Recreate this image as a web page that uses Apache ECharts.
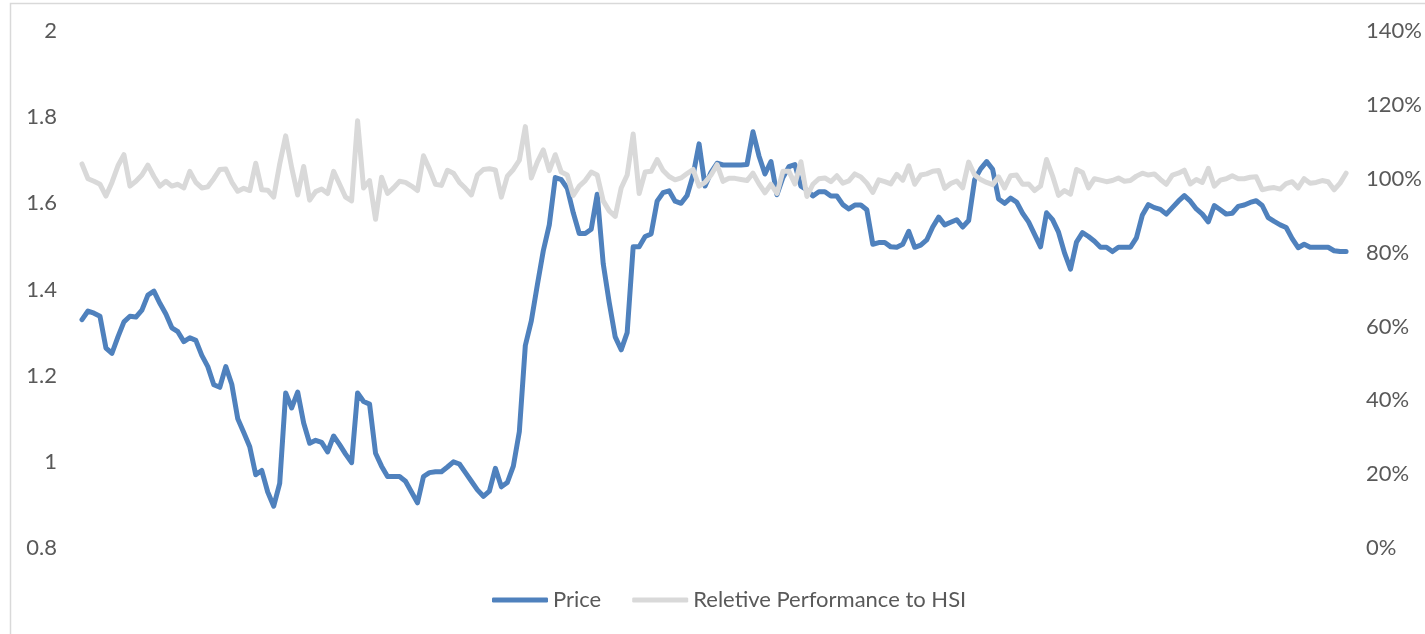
<!DOCTYPE html>
<html>
<head>
<meta charset="utf-8">
<script src="https://cdn.jsdelivr.net/npm/echarts@6/dist/echarts.min.js"></script>
<style>
html,body{margin:0;padding:0;background:#fff;}
#chart{width:1425px;height:634px;}
</style>
</head>
<body>
<div id="chart"></div>
<script>
// Price (left axis)
const price = [
1.33,1.35,1.345,1.338,1.264,1.252,1.29,1.325,1.338,1.336,
1.352,1.387,1.396,1.368,1.343,1.311,1.302,1.279,1.288,1.282,
1.247,1.221,1.179,1.173,1.221,1.18,1.10,1.068,1.035,0.97,
0.98,0.93,0.897,0.95,1.16,1.125,1.162,1.09,1.043,1.05,
1.045,1.023,1.06,1.04,1.018,0.998,1.16,1.14,1.134,1.02,
0.99,0.966,0.966,0.966,0.955,0.93,0.905,0.966,0.975,0.977,
0.977,0.988,1.0,0.995,0.975,0.955,0.935,0.92,0.932,0.985,
0.942,0.952,0.99,1.07,1.27,1.327,1.41,1.49,1.55,1.66,
1.655,1.635,1.578,1.53,1.53,1.54,1.621,1.46,1.37,1.29,
1.26,1.3,1.499,1.499,1.523,1.529,1.605,1.625,1.629,1.605,
1.6,1.618,1.665,1.738,1.64,1.672,1.693,1.689,1.689,1.689,
1.689,1.69,1.766,1.71,1.668,1.697,1.62,1.66,1.685,1.69,
1.64,1.631,1.617,1.627,1.627,1.617,1.617,1.597,1.587,1.596,
1.596,1.585,1.505,1.509,1.509,1.499,1.498,1.505,1.535,1.498,
1.503,1.515,1.545,1.568,1.55,1.556,1.562,1.545,1.56,1.655,
1.68,1.697,1.679,1.61,1.6,1.612,1.603,1.577,1.557,1.528,
1.499,1.578,1.562,1.533,1.485,1.447,1.51,1.532,1.523,1.512,
1.498,1.498,1.488,1.498,1.498,1.498,1.52,1.573,1.597,1.59,
1.586,1.575,1.59,1.605,1.618,1.605,1.587,1.575,1.557,1.595,
1.585,1.575,1.577,1.593,1.596,1.602,1.606,1.595,1.567,1.558,
1.55,1.544,1.518,1.497,1.505,1.498,1.498,1.498,1.498,1.49,
1.488,1.488
];
// Relative performance to HSI, in % (right axis)
const relPerf = [
104,100,99.3,98.5,95.3,99,103.5,106.5,98,99.3,
101,103.7,100.6,98,99.3,98,98.5,97.5,102,99,
97.5,97.8,100,102.5,102.6,99.1,96.6,97.4,96.8,104.2,
97,96.9,95,104,111.6,103,95.6,103.3,94.2,96.5,
97.2,96,102,98.5,95,94,115.7,97.5,99.5,89,
100.4,96,97.5,99.3,99,98,96.8,106.2,102.6,98.5,
98.2,102.3,101.5,99,97.4,95.6,101,102.5,102.7,102.4,
95,100.7,102.5,105,114.1,100.2,104.5,107.8,102.2,106.5,
101.8,101,95.5,98,99.5,101.8,101,94,91.3,89.8,
97.5,101,112.1,96,101.8,102,105.2,102.2,100.6,99.7,
100.2,101.4,102.5,98,99,101,103.8,99.3,100.1,100.1,
99.8,99.5,101.5,98.6,96.2,98.5,96,102,102,98.6,
104.6,95.2,98.5,100,100.2,99.2,100.8,98.8,99.4,101.3,
100.5,98.8,96.3,99.7,99.2,98.6,101.2,99.6,103.5,98.5,
101,101.3,102,102.2,97.4,98.7,99.4,97.5,104.5,101,
99.8,99,98.4,100.5,97.5,100.8,101,98.5,98.6,96.8,
98,105.2,100.8,95.5,96.8,95.8,102.5,101.7,97.5,100,
99.6,99.2,99.5,100.2,99.3,99.5,100.7,101.5,101,101.3,
99.8,98.5,101,101.5,102.3,98.6,99.8,99,102.8,98,
99.6,100,100.8,100,100,100.4,100.5,97,97.4,97.6,
97.2,98.7,99.2,97.5,100,98.8,99,99.5,99.2,97,
98.8,101.5
];
const seriesNames = ['Price', 'Reletive Performance to HSI'];
const days = price.map((_, i) => 'D' + (i + 1));

const FONT = 'Lato, "Open Sans", sans-serif';
const TXT = '#595959';
const chart = echarts.init(document.getElementById('chart'), null, {renderer: 'canvas'});
chart.setOption({
  animation: false,
  backgroundColor: '#fff',
  graphic: [{
    type: 'rect', z: -10, silent: true,
    shape: {x: 10.5, y: 3.5, width: 1500, height: 800},
    style: {fill: 'none', stroke: '#d9d9d9', lineWidth: 1.5}
  }],
  grid: {left: 82, right: 77, top: 31, bottom: 86},
  legend: {
    data: [
      {name: seriesNames[0], icon: 'roundRect'},
      {name: seriesNames[1], icon: 'roundRect'}
    ],
    left: 487, top: 584,
    itemWidth: 56, itemHeight: 5, itemGap: 31,
    textStyle: {fontFamily: FONT, fontSize: 22, color: TXT}
  },
  xAxis: {
    type: 'category', data: days, boundaryGap: false,
    axisLine: {show: false}, axisTick: {show: false}, axisLabel: {show: false},
    splitLine: {show: false}
  },
  yAxis: [{
    type: 'value', min: 0.8, max: 2, interval: 0.2,
    axisLine: {show: false}, axisTick: {show: false}, splitLine: {show: false},
    axisLabel: {fontFamily: FONT, fontSize: 22, color: TXT, margin: 25,
      formatter: v => String(Math.round(v * 10) / 10)}
  }, {
    type: 'value', min: 0, max: 140, interval: 20, position: 'right',
    axisLine: {show: false}, axisTick: {show: false}, splitLine: {show: false},
    axisLabel: {fontFamily: FONT, fontSize: 22, color: TXT, margin: 20, formatter: '{value}%'}
  }],
  series: [{
    name: seriesNames[0], type: 'line', yAxisIndex: 0, data: price,
    showSymbol: false, symbol: 'none',
    lineStyle: {color: '#4f81bd', width: 5, cap: 'round', join: 'round'},
    itemStyle: {color: '#4f81bd'}, z: 2
  }, {
    name: seriesNames[1], type: 'line', yAxisIndex: 1, data: relPerf,
    showSymbol: false, symbol: 'none',
    lineStyle: {color: '#d9d9d9', width: 5, cap: 'round', join: 'round'},
    itemStyle: {color: '#d9d9d9'}, z: 3
  }]
});
</script>
</body>
</html>
